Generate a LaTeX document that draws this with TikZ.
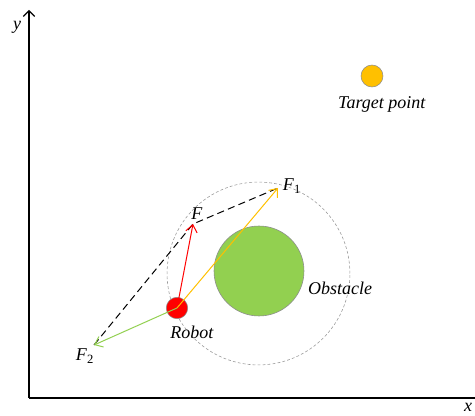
\documentclass[tikz,border=0pt]{standalone}
\usepackage{fontspec}
\setmainfont{Liberation Serif}
\usepackage{xcolor}
\definecolor{colRobot}{HTML}{FF0000}
\definecolor{colTarget}{HTML}{FFC000}
\definecolor{colObst}{HTML}{92D050}
\usetikzlibrary{arrows.meta, positioning}
\newcommand{\lbl}[1]{\textit{#1}}
\begin{document}
\begin{tikzpicture}[x=0.7pt, y=-0.7pt, font=\fontsize{12.6}{15}\selectfont,
        force/.style={-{Straight Barb[length=5pt, width=8pt]}, line width=0.7pt},
        ball/.style={circle, draw=black!45, line width=0.4pt, inner sep=0pt}]
        \useasboundingbox (0,0) rectangle (475,416);
        % Achsen
        \coordinate (O) at (29,398);
        \coordinate (Ytop) at (29,10);
        \coordinate (Xend) at (478,398);
        \draw[-{Straight Barb[length=4pt, width=8pt]}, line width=0.8pt] (O) -- (Ytop);
        \draw[line width=0.8pt] (O) -- (Xend);
        \node (ylab) at (17,27) {\lbl{y}};
        \node (xlab) at (468,407) {\lbl{x}};
        % Zielpunkt
        \node[ball, fill=colTarget, minimum size=15.4pt] (T) at (372,76) {};
        \node (Tlab) at (382,104) {\lbl{Target point}};
        % Hindernis
        \node[circle, draw=black!40, dashed, dash pattern=on 2pt off 1.5pt,
              line width=0.4pt, minimum size=128pt] (R) at (258.5,273.5) {};
        \node[ball, fill=colObst, minimum size=63pt] (Obs) at (259,271) {};
        \node (Olab) at (340,288) {\lbl{Obstacle}};
        % Roboter
        \node[ball, fill=colRobot, minimum size=15pt] (Rob) at (177,308) {};
        \node (Rlab) at (192,332) {\lbl{Robot}};
        % Kraefte
        \coordinate (F) at (193,224);
        \coordinate (F1) at (278,188);
        \coordinate (F2) at (94,345);
        \draw[dashed, dash pattern=on 5pt off 3pt, line width=0.7pt] (F2) -- (F) -- (F1);
        \draw[force, colRobot] (Rob.center) -- (F);
        \draw[force, colTarget] (Rob.center) -- (F1);
        \draw[force, colObst] (Rob.center) -- (F2);
        \node (Flab) at (197,214) {\lbl{F}};
        \node (F1lab) at (292,186) {\lbl{F}\textsubscript{1}};
        \node (F2lab) at (85,356) {\lbl{F}\textsubscript{2}};
    \end{tikzpicture}
\end{document}
